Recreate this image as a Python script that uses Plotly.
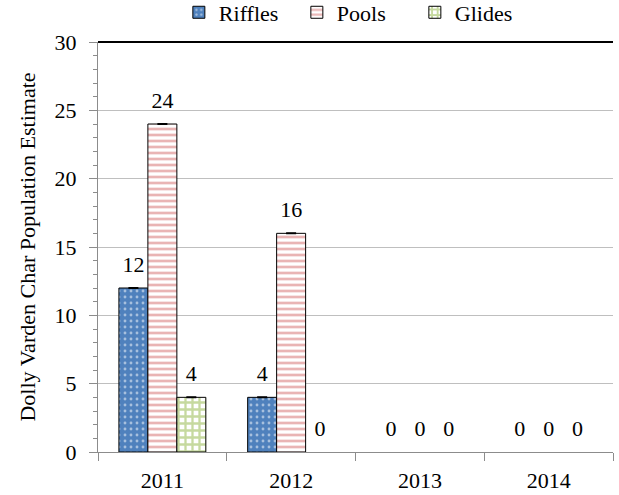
import numpy as np
import plotly.graph_objects as go

years = ["2011", "2012", "2013", "2014"]
riffles = [12, 4, 0, 0]
pools = [24, 16, 0, 0]
glides = [4, 0, 0, 0]

series = [
    ("Riffles", riffles, dict(shape=".", bgcolor="#4F81BD", fgcolor="white", size=6, solidity=0.18)),
    ("Pools", pools, dict(shape="-", bgcolor="white", fgcolor="#D46A6A", size=6, solidity=0.45)),
    ("Glides", glides, dict(shape="+", bgcolor="white", fgcolor="#8DB33F", size=7, solidity=0.55)),
]

FONT = "Liberation Serif"
FS = 22
fig = go.Figure()
for name, vals, pat in series:
    err = np.array([0.0 if v > 0 else np.nan for v in vals])
    fig.add_trace(go.Bar(
        name=name, x=years, y=vals, offsetgroup=name,
        marker=dict(color=pat["bgcolor"], pattern=pat,
                    line=dict(color="black", width=[1 if v > 0 else 0 for v in vals])),
        error_y=dict(type="data", array=err, visible=True, color="black", thickness=2, width=5),
        hoverinfo="x+y+name",
    ))
for name, vals, pat in series:
    fig.add_trace(go.Scatter(
        x=years, y=vals, offsetgroup=name, mode="markers+text",
        text=[str(v) for v in vals], textposition="top center",
        textfont=dict(family=FONT, size=FS, color="black"),
        marker=dict(size=16, opacity=0),
        cliponaxis=False, showlegend=False, hoverinfo="skip",
    ))

fig.update_layout(
    width=619, height=495,
    margin=dict(l=98, r=6, t=42, b=43, autoexpand=False),
    paper_bgcolor="white", plot_bgcolor="white",
    barmode="group", bargap=0.325, bargroupgap=0,
    scattermode="group", scattergap=0.325,
    font=dict(family=FONT, size=FS, color="black"),
    legend=dict(orientation="h", x=0.157, xanchor="left", y=1.072, yanchor="middle",
                font=dict(family=FONT, size=FS), itemwidth=30, traceorder="normal",
                entrywidth=73, entrywidthmode="pixels",
                bgcolor="rgba(0,0,0,0)"),
    shapes=[dict(type="line", xref="paper", yref="paper", x0=0, x1=1, y0=1, y1=1,
                 line=dict(color="black", width=2))],
)
fig.update_yaxes(
    range=[0, 30], dtick=5, showgrid=True, gridcolor="#BFBFBF", gridwidth=1,
    showline=True, linecolor="#8C8C8C", linewidth=1,
    ticks="outside", ticklen=8, tickcolor="#8C8C8C", ticklabelstandoff=8,
    minor=dict(dtick=1, ticks="outside", ticklen=4, tickcolor="#8C8C8C", showgrid=False),
    tickfont=dict(family=FONT, size=FS),
    title=dict(text="Dolly Varden Char Population Estimate", font=dict(family=FONT, size=FS), standoff=12),
    zeroline=False,
)
fig.update_xaxes(
    showline=True, linecolor="#8C8C8C", linewidth=1,
    ticks="outside", tickson="boundaries", ticklen=8, tickcolor="#8C8C8C", ticklabelstandoff=9,
    tickfont=dict(family=FONT, size=FS),
)
fig.write_html("out.html", config={"displayModeBar": False},
               post_script="document.body.style.margin='0';")
